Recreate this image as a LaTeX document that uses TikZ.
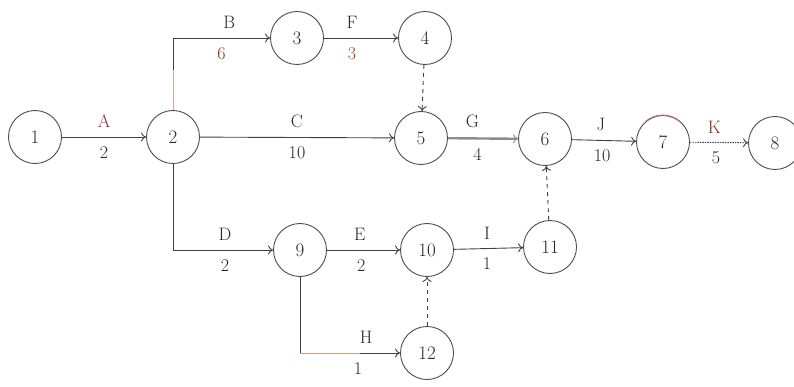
\documentclass[tikz,border=0pt]{standalone}
\usetikzlibrary{arrows.meta}
\definecolor{ink}{HTML}{262626}
\definecolor{redlbl}{HTML}{8E2A22}
\definecolor{brownlbl}{HTML}{9A4A2A}
\definecolor{rustline}{HTML}{C0704A}
\begin{document}
\begin{tikzpicture}[x=1pt,y=-1pt,
  ev/.style={circle, draw=black!70, line width=0.9pt, minimum size=53pt,
             inner sep=0pt, text=ink, font=\fontsize{19}{22}\selectfont},
  act/.style={draw=black!75, line width=0.9pt,
              -{To[length=5pt,width=9pt]}},
  dum/.style={act, dash pattern=on 4pt off 4pt},
  lab/.style={text=ink, font=\fontsize{18}{21}\selectfont, inner sep=0pt},
  up/.style={lab, above=9pt},
  dn/.style={lab, below=9pt}]
\useasboundingbox (0,0) rectangle (794,387);

% events
\node[ev] (n1)  at (35,137)  {1};
\node[ev] (n2)  at (173,137) {2};
\node[ev] (n3)  at (297,38)  {3};
\node[ev] (n4)  at (425,38)  {4};
\node[ev] (n5)  at (421,138) {5};
\node[ev] (n6)  at (545,139) {6};
\node[ev] (n7)  at (663,142) {7};
\node[ev] (n8)  at (775,143) {8};
\node[ev] (n9)  at (300,250) {9};
\node[ev] (n10) at (427,250) {10};
\node[ev] (n11) at (550,247) {11};
\node[ev] (n12) at (427,353) {12};

% red arc on top of event 7
\draw[redlbl!70, line width=1pt] (n7.130) arc[start angle=130, end angle=50, radius=26.5pt];

% activities
\draw[act] (n1) -- node[up, text=redlbl]{A} node[dn]{2} (n2);
\draw[act] (n2.north) |- node[pos=0.79, up]{B} node[pos=0.75, dn, text=redlbl]{6} (n3.west);
\draw[rustline!60, line width=0.9pt] (n2.north) -- ++(0,-40);
\draw[act] (n3) -- node[pos=0.38, up]{F} node[pos=0.38, dn, text=brownlbl]{3} (n4);
\draw[act] (n2) -- node[up]{C} node[dn]{10} (n5);
\draw[act, draw=black!45, line width=2.4pt, -{To[length=5pt,width=9pt,line width=0.9pt]}]
  (n5) -- node[pos=0.35, up]{G} node[pos=0.42, dn]{4} (n6);
\draw[act] (n6) -- node[pos=0.45, up]{J} node[pos=0.47, dn]{10} (n7);
\draw[act, dash pattern=on 1.5pt off 1pt] (n7) -- node[pos=0.42, up, text=redlbl]{K} node[pos=0.45, dn]{5} (n8);
\draw[act] (n2.south) |- node[pos=0.76, up]{D} node[pos=0.76, dn]{2} (n9.west);
\draw[act] (n9) -- node[pos=0.45, up]{E} node[pos=0.47, dn]{2} (n10);
\draw[act] (n10) -- node[pos=0.48, up]{I} node[pos=0.48, dn]{1} (n11);
\draw[act] (n9.south) |- node[pos=0.83, up]{H} node[pos=0.79, dn]{1} (n12.west);
\draw[rustline!70, line width=0.9pt] (n9.south |- n12.west) -- ++(60,0);

% dummy activities
\draw[dum] (n4) -- (n5);
\draw[dum] (n11) -- (n6);
\draw[dum] (n12) -- (n10);
\end{tikzpicture}
\end{document}
